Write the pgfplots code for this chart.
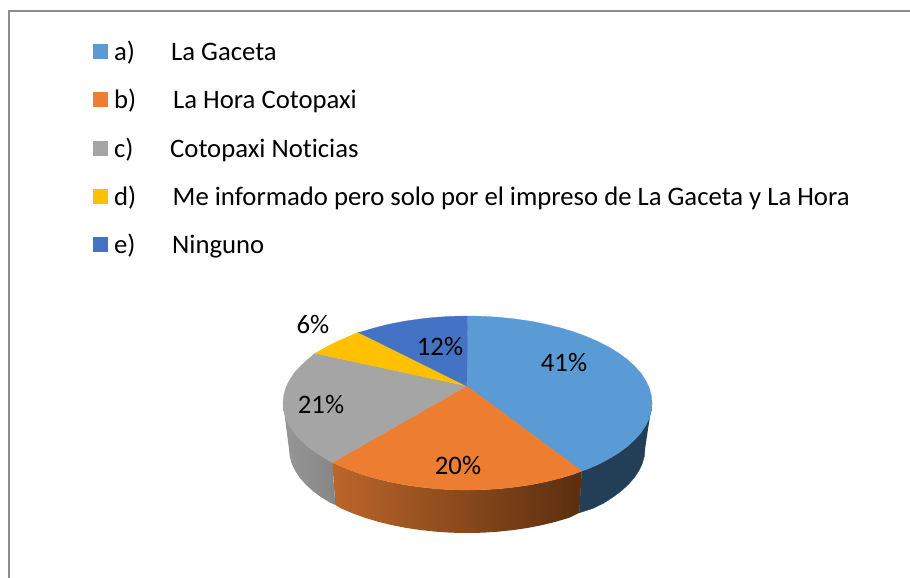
\documentclass[border=0pt]{standalone}
\usepackage{fontspec}
\setmainfont{Carlito}[Ligatures=NoCommon]
\usepackage{pgfplots}
\pgfplotsset{compat=1.18}
\definecolor{sliceA}{HTML}{5B9BD5}
\definecolor{sliceB}{HTML}{ED7D31}
\definecolor{sliceC}{HTML}{A5A5A5}
\definecolor{sliceD}{HTML}{FFC000}
\definecolor{sliceE}{HTML}{4472C4}
\definecolor{sideA}{HTML}{223F57}
\definecolor{sideBl}{HTML}{BC662A}
\definecolor{sideBr}{HTML}{5A2E10}
\definecolor{sideCl}{HTML}{969696}
\definecolor{sideCr}{HTML}{868686}
\definecolor{frameg}{HTML}{8C8C8C}
\newcommand{\txt}{\fontsize{26.7}{30}\selectfont}
\begin{document}
\begin{tikzpicture}
\useasboundingbox (0,0) rectangle (910pt,578pt);
\begin{axis}[hide axis,scale only axis,width=910pt,height=578pt,
 xmin=0,xmax=910,ymin=0,ymax=578,y dir=reverse,
 every axis plot/.append style={no markers,line width=0.3pt},
 anchor=south west,at={(0,0)},clip=true]
% frame
\addplot[color=frameg,line width=1.6pt] coordinates {(9,580) (9,11) (912,11)};
% legend keys
\addplot[fill=sliceA,draw=none] coordinates {(93,44) (108,44) (108,59) (93,59)};
\addplot[fill=sliceB,draw=none] coordinates {(93,92) (108,92) (108,107) (93,107)};
\addplot[fill=sliceC,draw=none] coordinates {(93,141) (108,141) (108,156) (93,156)};
\addplot[fill=sliceD,draw=none] coordinates {(93,189) (108,189) (108,204) (93,204)};
\addplot[fill=sliceE,draw=none] coordinates {(93,237) (108,237) (108,252) (93,252)};
% side walls
\addplot[fill=sideA,draw=sideA] coordinates {(652,403) (651.3,410.6) (649.2,418.1) (645.7,425.5) (640.9,432.8) (634.7,439.8) (627.3,446.5) (618.6,452.9) (608.8,458.9) (598,464.5) (586.1,469.6) (581.7,471) (579.3,512.8) (592.9,508.4) (603.4,503.3) (612.8,497.2) (621.2,491) (628.3,484.5) (634.3,477.7) (638.9,470.7) (642.3,463.6) (644.3,456.3) (645,449)};
\addplot[left color=sideBl,right color=sideBr,draw=none] coordinates {(581.7,471) (573.3,474.3) (559.8,478.3) (545.5,481.8) (530.6,484.8) (515.2,487) (499.5,488.7) (483.6,489.7) (467.5,490) (451.4,489.7) (435.5,488.7) (419.8,487) (404.4,484.8) (389.5,481.8) (375.2,478.3) (361.7,474.3) (348.9,469.6) (337,464.5) (332.3,462.7) (335.3,505) (341.1,508.4) (352.6,513.3) (364.9,517.8) (378,521.7) (391.8,525.1) (406.1,527.9) (420.9,530.1) (436.1,531.7) (451.5,532.7) (467,533) (482.5,532.7) (497.9,531.7) (513.1,530.1) (527.9,527.9) (542.2,525.1) (556,521.7) (569.1,517.8) (579.3,512.8)};
\addplot[left color=sideCl,right color=sideCr,draw=none] coordinates {(332.3,462.7) (326.2,458.9) (316.4,452.9) (307.7,446.5) (300.3,439.8) (294.1,432.8) (289.3,425.5) (285.8,418.1) (283.7,410.6) (283,403) (289,449) (289.7,456.3) (291.7,463.6) (295.1,470.7) (299.7,477.7) (305.7,484.5) (312.8,491) (321.2,497.2) (330.6,503) (335.3,505)};
% top face
\addplot[fill=sliceA,draw=sliceA] coordinates {(466.7,386) (467.5,316) (483.6,316.3) (499.5,317.3) (515.2,319) (530.6,321.2) (545.5,324.2) (559.8,327.7) (573.3,331.7) (586.1,336.4) (598,341.5) (608.8,347.1) (618.6,353.1) (627.3,359.5) (634.7,366.2) (640.9,373.2) (645.7,380.5) (649.2,387.9) (651.3,395.4) (652,403) (651.3,410.6) (649.2,418.1) (645.7,425.5) (640.9,432.8) (634.7,439.8) (627.3,446.5) (618.6,452.9) (608.8,458.9) (598,464.5) (586.1,469.6) (581.7,471) (466.7,386)};
\addplot[fill=sliceB,draw=sliceB] coordinates {(466.7,386) (581.7,471) (573.3,474.3) (559.8,478.3) (545.5,481.8) (530.6,484.8) (515.2,487) (499.5,488.7) (483.6,489.7) (467.5,490) (451.4,489.7) (435.5,488.7) (419.8,487) (404.4,484.8) (389.5,481.8) (375.2,478.3) (361.7,474.3) (348.9,469.6) (337,464.5) (332.3,462.7) (466.7,386)};
\addplot[fill=sliceC,draw=sliceC] coordinates {(466.7,386) (332.3,462.7) (326.2,458.9) (316.4,452.9) (307.7,446.5) (300.3,439.8) (294.1,432.8) (289.3,425.5) (285.8,418.1) (283.7,410.6) (283,403) (283.7,395.4) (285.8,387.9) (289.3,380.5) (294.1,373.2) (300.3,366.2) (307.7,359.5) (315,353.3) (466.7,386)};
\addplot[fill=sliceD,draw=sliceD] coordinates {(466.7,386) (315,353.3) (326.2,347.1) (337,341.5) (348.9,336.4) (358.3,332.3) (466.7,386)};
\addplot[fill=sliceE,draw=sliceE] coordinates {(466.7,386) (358.3,332.3) (361.7,331.7) (375.2,327.7) (389.5,324.2) (404.4,321.2) (419.8,319) (435.5,317.3) (451.4,316.3) (467.5,316) (466.7,386)};
% legend text
\begin{scope}[every node/.style={anchor=base west,inner sep=0pt,font=\txt,text=black}]
\node at (axis cs:114,60) {a)};
\node at (axis cs:171,60) {La Gaceta};
\node at (axis cs:114,108) {b)};
\node at (axis cs:173,108) {La Hora Cotopaxi};
\node at (axis cs:114,157) {c)};
\node at (axis cs:170,157) {Cotopaxi Noticias};
\node at (axis cs:114,205) {d)};
\node at (axis cs:172.5,205) {Me informado pero solo por el impreso de La Gaceta y La Hora};
\node at (axis cs:114,253) {e)};
\node at (axis cs:172,253) {Ninguno};
\end{scope}
% slice labels
\begin{scope}[every node/.style={anchor=center,inner sep=0pt,font=\txt,text=black}]
\node at (axis cs:564,363) {41\%};
\node at (axis cs:440,347) {12\%};
\node at (axis cs:458,465) {20\%};
\node at (axis cs:321,405) {21\%};
\node at (axis cs:313,325) {6\%};
\end{scope}
\end{axis}
\end{tikzpicture}
\end{document}
